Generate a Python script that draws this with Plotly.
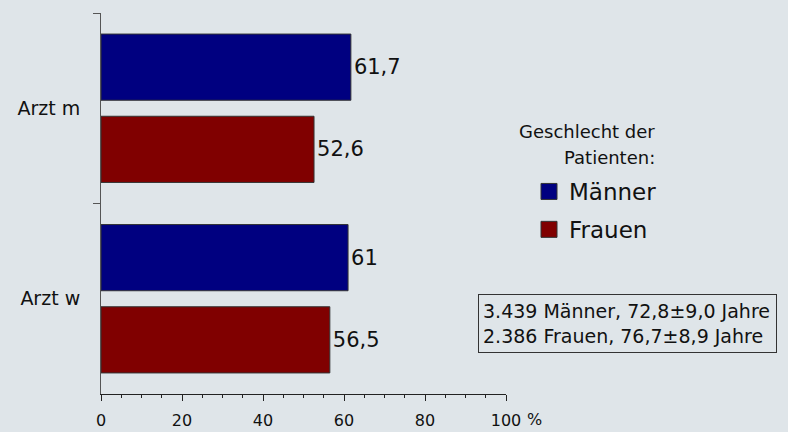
import plotly.graph_objects as go

categories = ["Arzt m", "Arzt w"]
maenner = [61.7, 61.0]
frauen = [52.6, 56.5]
x_tickvals = [0, 20, 40, 60, 80, 100]
x_ticktext = ["0", "20", "40", "60", "80", "100"]
legend_title_lines = ["Geschlecht der", "Patienten:"]
info_text = "3.439 Männer, 72,8±9,0 Jahre<br>2.386 Frauen, 76,7±8,9 Jahre"

FONT = "DejaVu Sans, Verdana, sans-serif"
BG = "#dfe5e9"
TXT = "#111111"
BLUE = "#000080"
RED = "#800000"

# plot area in pixels
L, R, T, B = 101, 506, 13, 394
W, H = 788, 432


def px(x, y):
    return (x - L) / (R - L), (B - y) / (B - T)


def fmt(v):
    s = ("%.1f" % v)
    if s.endswith(".0"):
        s = s[:-2]
    return s.replace(".", ",")


fig = go.Figure()
for name, vals, col in [("Männer", maenner, BLUE), ("Frauen", frauen, RED)]:
    fig.add_trace(go.Bar(
        name=name, y=categories, x=vals, orientation="h", showlegend=False,
        marker=dict(color=col, line=dict(color="#333333", width=1)),
        text=[fmt(v) for v in vals], textposition="outside",
        textfont=dict(size=21, color=TXT, family=FONT), cliponaxis=False,
    ))
# legend entries (square swatches)
for name, col in [("Männer", BLUE), ("Frauen", RED)]:
    fig.add_trace(go.Scatter(
        name=name, x=[None], y=[None], mode="markers", legendgroup=name,
        marker=dict(symbol="square", size=16, color=col, line=dict(color="#333333", width=1)),
    ))

lx, ly = px(529, 170)
fig.update_layout(
    template="none",
    width=W, height=H, autosize=False,
    margin=dict(l=L, r=W - R, t=T, b=H - B, autoexpand=False),
    paper_bgcolor=BG, plot_bgcolor=BG,
    barmode="group", bargap=0.137, bargroupgap=0.195,
    font=dict(family=FONT, color=TXT),
    showlegend=True,
    legend=dict(x=lx, y=ly, xanchor="left", yanchor="top",
                font=dict(size=23, family=FONT, color=TXT),
                bgcolor="rgba(0,0,0,0)", traceorder="grouped", tracegroupgap=5,
                itemwidth=30, borderwidth=0),
)
fig.update_xaxes(
    automargin=False,
    range=[0, 100], tickvals=x_tickvals, ticktext=x_ticktext,
    showgrid=False, zeroline=False, showline=True, linecolor="#222222", linewidth=1,
    ticks="outside", ticklen=6, tickcolor="#222222", tickwidth=1,
    minor=dict(dtick=5, ticks="outside", ticklen=3, tickcolor="#222222", showgrid=False),
    tickfont=dict(size=16, family=FONT, color=TXT),
    ticklabelstandoff=6,
)
fig.update_yaxes(
    automargin=False,
    autorange="reversed", showgrid=False, zeroline=False,
    showline=True, linecolor="#555555", linewidth=1,
    ticks="outside", ticklen=7, tickcolor="#555555", tickwidth=1, tickson="boundaries",
    tickfont=dict(size=19, family=FONT, color=TXT),
    ticklabelstandoff=16,
)

# "%" after the last tick label
fig.add_annotation(x=100, y=0, xref="x", yref="paper", text="%", showarrow=False,
                   xanchor="left", yanchor="middle", xshift=19, yshift=-25,
                   font=dict(size=16, family=FONT, color=TXT))
# legend title, right-aligned
for line, cy in zip(legend_title_lines, [131, 157]):
    ax, ay = px(657, cy)
    fig.add_annotation(x=ax, y=ay, xref="paper", yref="paper", text=line,
                       showarrow=False, xanchor="right", yanchor="middle",
                       font=dict(size=18, family=FONT, color=TXT))
# info box
bx, by = px(627.5, 323.5)
fig.add_annotation(x=bx, y=by, xref="paper", yref="paper", text=info_text,
                   showarrow=False, align="left", xanchor="center", yanchor="middle",
                   width=289, height=49, borderpad=4,
                   bordercolor="#333333", borderwidth=1, bgcolor=BG,
                   font=dict(size=19, family=FONT, color=TXT))

fig.write_html("out.html", config=dict(displayModeBar=False),
               post_script="document.body.style.margin='0';document.body.style.background='%s';" % BG)
